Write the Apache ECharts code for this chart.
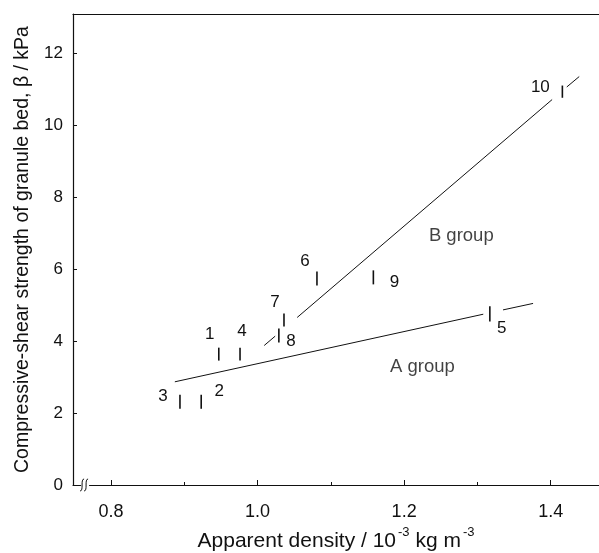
<!DOCTYPE html>
<html>
<head>
<meta charset="utf-8">
<script src="https://cdn.jsdelivr.net/npm/echarts@6/dist/echarts.min.js"></script>
<style>
  html, body { margin: 0; padding: 0; background: #fff; }
  #chart { width: 599px; height: 553px; }
</style>
</head>
<body>
<div id="chart"></div>
<script>
// Sample numbers and measured values (apparent density, strength range)
const sampleIds    = ['1', '2', '3', '4', '5', '6', '7', '8', '9', '10'];
const density      = [0.947, 0.923, 0.894, 0.976, 1.317, 1.081, 1.036, 1.029, 1.158, 1.416];
const strengthLow  = [3.46, 2.12, 2.12, 3.46, 4.55, 5.55, 4.41, 3.96, 5.58, 10.77];
const strengthHigh = [3.82, 2.51, 2.51, 3.82, 4.97, 5.94, 4.77, 4.35, 5.97, 11.11];

// Fitted trend lines, drawn as broken segments around the data marks
const fitA = [
  [[0.887, 2.87], [1.308, 4.75]],
  [[1.335, 4.87], [1.376, 5.05]]
];
const fitB = [
  [[1.009, 3.88], [1.024, 4.14]],
  [[1.054, 4.66], [1.402, 10.72]],
  [[1.422, 11.07], [1.439, 11.36]]
];

// Group annotations
const groupNames = ['B group', 'A group'];
const groupPos   = [[1.278, 6.92], [1.225, 3.29]];

// Axis ticks
const xLabelTicks = [0.8, 1.0, 1.2, 1.4];
const xMinorTicks = [0.9, 1.1, 1.3];

// Label placement for each sample number (pixel offset from the mark centre)
const labelOffsets = [[-9, -20], [18, -10], [-17, -5], [2, -23], [12, 14],
                      [-12, -17], [-9, -18], [12, 6], [21, 5], [-22, -4]];

const FONT = '"Liberation Sans", Arial, Helvetica, sans-serif';
const INK = '#111';

const chart = echarts.init(document.getElementById('chart'), null, { renderer: 'canvas' });

const segSeries = [...fitA, ...fitB].map(seg => ({
  type: 'line',
  data: seg,
  symbol: 'none',
  silent: true,
  lineStyle: { color: INK, width: 1 },
  z: 2
}));

const option = {
  animation: false,
  grid: { left: 73, right: 0, top: 14, bottom: 68, outerBoundsMode: 'none', containLabel: false },
  xAxis: [
    {
      type: 'value',
      min: 0.748, max: 1.466,
      axisLine: { show: true, onZero: false, lineStyle: { color: INK, width: 1.2 } },
      axisTick: { show: true, inside: true, length: 5, customValues: xLabelTicks, lineStyle: { color: INK } },
      axisLabel: { customValues: xLabelTicks, color: INK, fontFamily: FONT, fontSize: 18, margin: 18,
                   formatter: v => v.toFixed(1) },
      splitLine: { show: false },
      name: '{t|Apparent density / 10}{s|-3}{t| kg m}{s|-3}',
      nameLocation: 'middle',
      nameGap: 38,
      nameTextStyle: {
        rich: {
          t: { fontFamily: FONT, fontSize: 21, color: INK, lineHeight: 26, verticalAlign: 'bottom' },
          s: { fontFamily: FONT, fontSize: 13, color: INK, lineHeight: 26, verticalAlign: 'top', padding: [0, 0, 0, 2] }
        }
      }
    },
    {
      // minor ticks along the bottom
      type: 'value', position: 'bottom',
      min: 0.748, max: 1.466,
      axisLine: { show: false },
      axisTick: { show: true, inside: true, length: 3, customValues: xMinorTicks, lineStyle: { color: INK } },
      axisLabel: { show: false },
      splitLine: { show: false }
    },
    {
      // top frame line
      type: 'value', position: 'top',
      min: 0.748, max: 1.466,
      axisLine: { show: true, lineStyle: { color: INK, width: 1.2 } },
      axisTick: { show: false },
      axisLabel: { show: false },
      splitLine: { show: false }
    }
  ],
  yAxis: {
    type: 'value',
    min: 0, max: 13.1, interval: 2,
    axisLine: { show: true, lineStyle: { color: INK, width: 1.2 } },
    axisTick: { show: true, inside: true, length: 4, lineStyle: { color: INK } },
    axisLabel: { color: INK, fontFamily: FONT, fontSize: 17, margin: 10,
                 showMaxLabel: false },
    splitLine: { show: false },
    name: 'Compressive-shear strength of granule bed, β / kPa',
    nameLocation: 'middle',
    nameGap: 40,
    nameTextStyle: { fontFamily: FONT, fontSize: 19.5, color: INK }
  },
  series: [
    ...segSeries,
    {
      type: 'custom',
      data: density.map((x, i) => [x, strengthLow[i], strengthHigh[i], i]),
      encode: { x: 0, y: [1, 2] },
      z: 3,
      renderItem: (params, api) => {
        const i = api.value(3);
        const lo = api.coord([api.value(0), api.value(1)]);
        const hi = api.coord([api.value(0), api.value(2)]);
        const off = labelOffsets[i];
        const cx = lo[0], cy = (lo[1] + hi[1]) / 2;
        return {
          type: 'group',
          children: [
            { type: 'line', shape: { x1: lo[0], y1: lo[1], x2: hi[0], y2: hi[1] },
              style: { stroke: INK, lineWidth: 1.6 } },
            { type: 'text', x: cx + off[0], y: cy + off[1],
              style: { text: sampleIds[i], fill: INK, font: '17px ' + FONT,
                       align: 'center', verticalAlign: 'middle' } }
          ]
        };
      }
    },
    {
      type: 'scatter',
      data: groupPos.map((p, i) => ({ value: p, name: groupNames[i] })),
      symbolSize: 0,
      silent: true,
      label: { show: true, position: 'inside', formatter: '{b}', color: INK,
               fontFamily: FONT, fontSize: 18.5 }
    }
  ]
};

chart.setOption(option);

// Axis break mark near the origin of the density axis
const bp = chart.convertToPixel({ xAxisIndex: 0, yAxisIndex: 0 }, [0.7645, 0]);
chart.setOption({
  graphic: [
    { type: 'rect', shape: { x: bp[0] - 4, y: bp[1] - 2, width: 8, height: 4 },
      style: { fill: '#fff' }, z: 100 },
    { type: 'bezierCurve', shape: { x1: bp[0] - 5, y1: bp[1] + 6, x2: bp[0] - 1, y2: bp[1] - 6,
        cpx1: bp[0] - 1, cpy1: bp[1] + 6, cpx2: bp[0] - 5, cpy2: bp[1] - 6 },
      style: { stroke: INK, lineWidth: 1, fill: null }, z: 101 },
    { type: 'bezierCurve', shape: { x1: bp[0] - 1, y1: bp[1] + 6, x2: bp[0] + 3, y2: bp[1] - 6,
        cpx1: bp[0] + 3, cpy1: bp[1] + 6, cpx2: bp[0] - 1, cpy2: bp[1] - 6 },
      style: { stroke: INK, lineWidth: 1, fill: null }, z: 101 }
  ]
});
</script>
</body>
</html>
